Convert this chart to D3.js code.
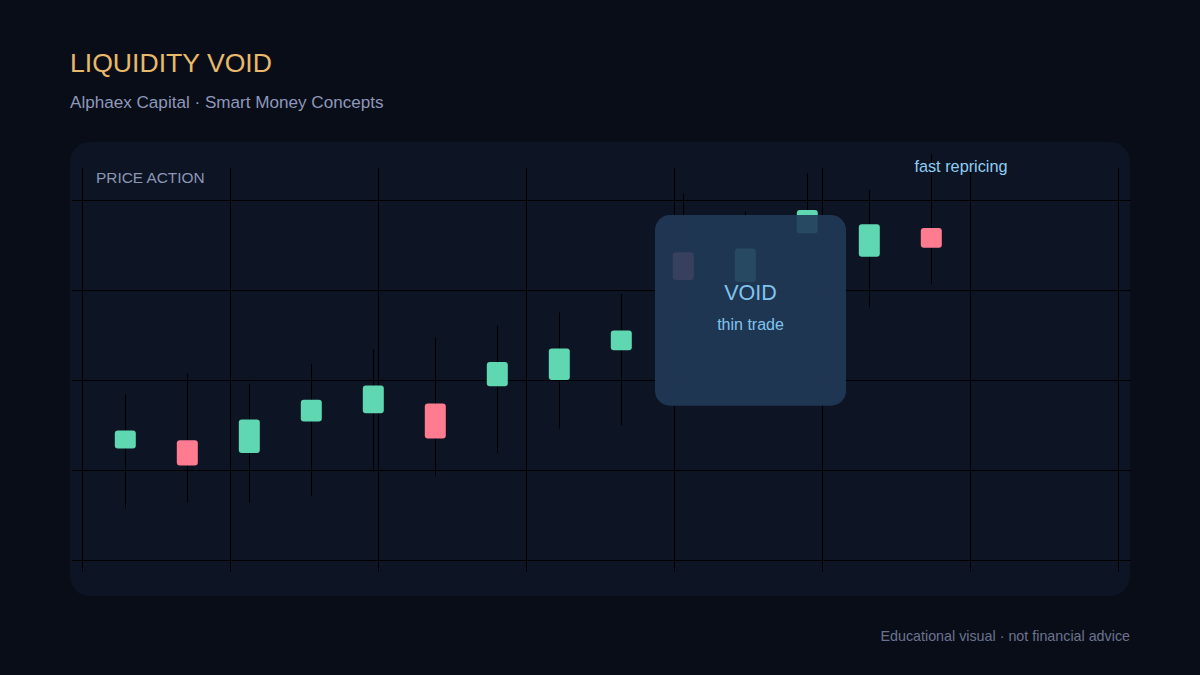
<!DOCTYPE html>
<html>
<head>
<meta charset="utf-8">
<script src="https://cdn.jsdelivr.net/npm/d3@7/dist/d3.min.js"></script>
<style>
  html, body { margin: 0; padding: 0; background: #090d17; }
  svg { display: block; font-family: "Liberation Sans", Arial, Helvetica, sans-serif; }
</style>
</head>
<body>
<svg id="chart" width="1200" height="675"></svg>
<script>
// ---- data ----
const candleIndex = [0, 1, 2, 3, 4, 5, 6, 7, 8, 9, 10, 11, 12, 13];
const opens  = [112.4, 113.3, 111.9, 115.4, 116.3, 117.4, 119.3, 120.0, 123.3, 134.2, 130.9, 136.3, 133.7, 136.9];
const closes = [114.4, 110.5, 115.6, 117.8, 119.4, 113.5, 122.0, 123.5, 125.5, 131.1, 134.6, 138.9, 137.3, 134.7];
const highs  = [118.4, 120.7, 119.6, 121.8, 123.4, 124.7, 126.0, 127.5, 129.6, 140.7, 138.7, 143.0, 141.1, 145.1];
const lows   = [105.7, 106.4, 106.4, 107.1, 109.8, 109.4, 111.9, 114.6, 115.0, 127.0, 127.5, 132.5, 128.1, 130.7];
const priceTicks = [100, 110, 120, 130, 140];
const timeTicks = [0, 1, 2, 3, 4, 5, 6, 7];
const voidTop = 138.33, voidBottom = 117.14;

const svg = d3.select("#chart");
const W = 1200, H = 675;

// background
svg.append("rect").attr("width", W).attr("height", H).attr("fill", "#090d17");

// titles
svg.append("text").attr("x", 70).attr("y", 72).attr("fill", "#e8b96a")
  .attr("font-size", 26.6).text("LIQUIDITY VOID");
svg.append("text").attr("x", 70).attr("y", 108).attr("fill", "#8e98bb")
  .attr("font-size", 17.1).text("Alphaex Capital · Smart Money Concepts");

// panel
svg.append("rect").attr("x", 70).attr("y", 142).attr("width", 1060).attr("height", 454)
  .attr("rx", 20).attr("fill", "#0d1424");

// scales
const y = d3.scaleLinear().domain([100, 140]).range([560, 200]);
const xGrid = d3.scaleLinear().domain([0, 7]).range([82, 1118]);
const x = d3.scaleLinear().domain([0, 13]).range([125, 931]);
const snap = v => Math.round(v) + 0.5;

// grid
const grid = svg.append("g").attr("stroke", "#000").attr("stroke-width", 1);
grid.selectAll("line.h").data(priceTicks).join("line").attr("class", "h")
  .attr("x1", 72).attr("x2", 1131)
  .attr("y1", d => snap(y(d))).attr("y2", d => snap(y(d)));
grid.selectAll("line.v").data(timeTicks).join("line").attr("class", "v")
  .attr("y1", 168).attr("y2", 572)
  .attr("x1", d => snap(xGrid(d))).attr("x2", d => snap(xGrid(d)));

// panel label
svg.append("text").attr("x", 96).attr("y", 183).attr("fill", "#8b97b5")
  .attr("font-size", 15.4).text("PRICE ACTION");

// candles
const green = "#5fd8b2", red = "#ff7b90";
const bodyW = 21;
const cg = svg.append("g");
cg.selectAll("line.wick").data(candleIndex).join("line").attr("class", "wick")
  .attr("x1", i => snap(x(i))).attr("x2", i => snap(x(i)))
  .attr("y1", i => y(highs[i])).attr("y2", i => y(lows[i]))
  .attr("stroke", "#000").attr("stroke-width", 1);
cg.selectAll("rect.body").data(candleIndex).join("rect").attr("class", "body")
  .attr("x", i => x(i) - bodyW / 2 + 0.3)
  .attr("width", bodyW)
  .attr("y", i => y(Math.max(opens[i], closes[i])))
  .attr("height", i => Math.abs(y(opens[i]) - y(closes[i])))
  .attr("rx", 3)
  .attr("fill", i => closes[i] >= opens[i] ? green : red);

// void box
const bx0 = 655, bx1 = 846;
svg.append("rect").attr("x", bx0).attr("y", y(voidTop))
  .attr("width", bx1 - bx0).attr("height", y(voidBottom) - y(voidTop))
  .attr("rx", 15).attr("fill", "#213a58").attr("opacity", 0.9);
svg.append("text").attr("x", (bx0 + bx1) / 2).attr("y", 300).attr("text-anchor", "middle")
  .attr("fill", "#80c4ee").attr("font-size", 21.5).text("VOID");
svg.append("text").attr("x", (bx0 + bx1) / 2).attr("y", 330).attr("text-anchor", "middle")
  .attr("fill", "#80c4ee").attr("font-size", 16).text("thin trade");

// annotation
svg.append("text").attr("x", 961).attr("y", 172).attr("text-anchor", "middle")
  .attr("fill", "#8fcdf2").attr("font-size", 16.3).text("fast repricing");

// footer
svg.append("text").attr("x", 1130).attr("y", 641).attr("text-anchor", "end")
  .attr("fill", "#6b7390").attr("font-size", 14.3).text("Educational visual · not financial advice");
</script>
</body>
</html>
